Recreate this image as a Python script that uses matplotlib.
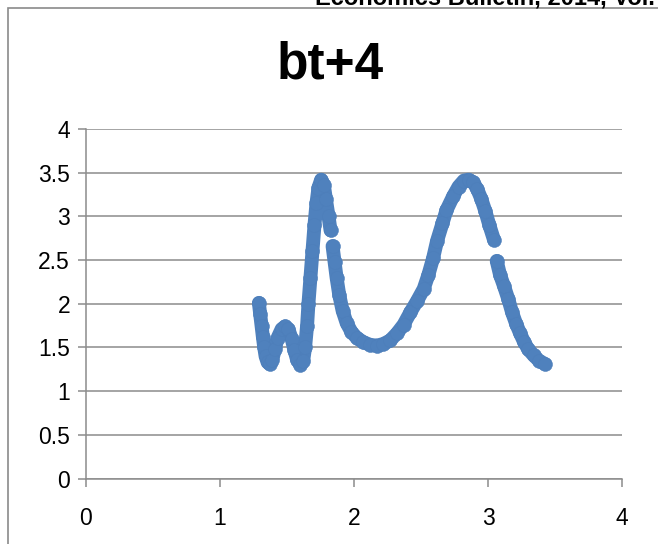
import matplotlib
matplotlib.use("Agg")
import matplotlib.pyplot as plt
import numpy as np
from matplotlib.patches import Rectangle

plt.rcParams['font.family'] = ['Liberation Sans', 'DejaVu Sans']

# bt+4 trajectory, read point by point (nan marks a break between samples)
bt_x = [1.29, 1.30, 1.31, 1.32, 1.33, 1.34, 1.355, 1.37,
        1.39, 1.41, 1.43, 1.46, 1.485, 1.51, 1.535, 1.555, 1.575, 1.60,
        1.62, 1.635, 1.65, 1.66, 1.675, 1.69, 1.705, 1.72, 1.735, 1.755,
        1.775, 1.79, 1.81, 1.825, np.nan,
        1.84, 1.855, 1.87, 1.89, 1.915, 1.945, 1.98, 2.02, 2.07, 2.12,
        2.17, 2.22, 2.27, 2.32, 2.37, 2.42, 2.47, 2.52, 2.555, 2.59,
        2.62, 2.66, 2.69, 2.74, 2.78, 2.82, 2.855, 2.89, 2.92, 2.95,
        2.98, 3.01, 3.045, np.nan,
        3.065, 3.09, 3.12, 3.15, 3.18, 3.21, 3.24, 3.27, 3.30, 3.34,
        3.38, 3.425]
bt_y = [2.01, 1.88, 1.75, 1.62, 1.50, 1.40, 1.33, 1.31,
        1.36, 1.48, 1.61, 1.71, 1.74, 1.71, 1.60, 1.47, 1.36, 1.30,
        1.34, 1.50, 1.75, 2.00, 2.30, 2.60, 2.90, 3.15, 3.33, 3.42,
        3.36, 3.20, 3.00, 2.84, np.nan,
        2.66, 2.48, 2.30, 2.10, 1.92, 1.78, 1.68, 1.61, 1.56, 1.53,
        1.52, 1.54, 1.58, 1.66, 1.76, 1.90, 2.03, 2.17, 2.33, 2.52,
        2.72, 2.92, 3.07, 3.23, 3.34, 3.41, 3.42, 3.39, 3.31, 3.20,
        3.06, 2.90, 2.73, np.nan,
        2.49, 2.33, 2.20, 2.06, 1.90, 1.77, 1.66, 1.56, 1.48, 1.41,
        1.35, 1.31]

x_ticks = [0, 1, 2, 3, 4]
y_ticks = [0, 0.5, 1, 1.5, 2, 2.5, 3, 3.5, 4]
y_labels = ['0', '0.5', '1', '1.5', '2', '2.5', '3', '3.5', '4']

blue = '#4F81BD'
grid = '#8c8c8c'

W, H = 658, 544
fig = plt.figure(figsize=(W / 100, H / 100), dpi=100)
ax = fig.add_axes([86 / W, 1 - 478.5 / H, (622 - 86) / W, (478.5 - 129) / H])

ax.plot(bt_x, bt_y, '-', color=blue, lw=10, solid_capstyle='round',
        solid_joinstyle='round', zorder=3)
ax.plot(bt_x, bt_y, 'o', color=blue, ms=10, mec='#4d7eba', mew=0.4, zorder=4)

ax.set_xlim(0, 4)
ax.set_ylim(0, 4)
ax.set_xticks(x_ticks)
ax.set_yticks(y_ticks)
ax.set_yticklabels(y_labels)
ax.yaxis.grid(True, color=grid, lw=1.1)
ax.set_axisbelow(True)

for side in ['top', 'right']:
    ax.spines[side].set_visible(False)
for side in ['left', 'bottom']:
    ax.spines[side].set_color(grid)
    ax.spines[side].set_linewidth(1.1)
ax.tick_params(axis='both', direction='out', length=5.5, width=1.1,
               color=grid, labelsize=16.5, labelcolor='black')
ax.tick_params(axis='y', pad=6)
ax.tick_params(axis='x', pad=15)

fig.text(330 / W, 1 - 65 / H, 'bt+4', ha='center', va='center',
         fontsize=37, fontweight='bold')

# outer chart frame and the running header above it
fig.patches.append(Rectangle((7.5 / W, -0.1), 1.2, 1 - 7.5 / H + 0.1,
                             transform=fig.transFigure, fill=False,
                             ec='#8a8a8a', lw=1.2))
fig.text(315 / W, 1 - 5 / H, 'Economics Bulletin, 2014, Vol.',
         ha='left', va='baseline', fontsize=17, fontweight='bold')

fig.savefig('out.png', dpi=100)
